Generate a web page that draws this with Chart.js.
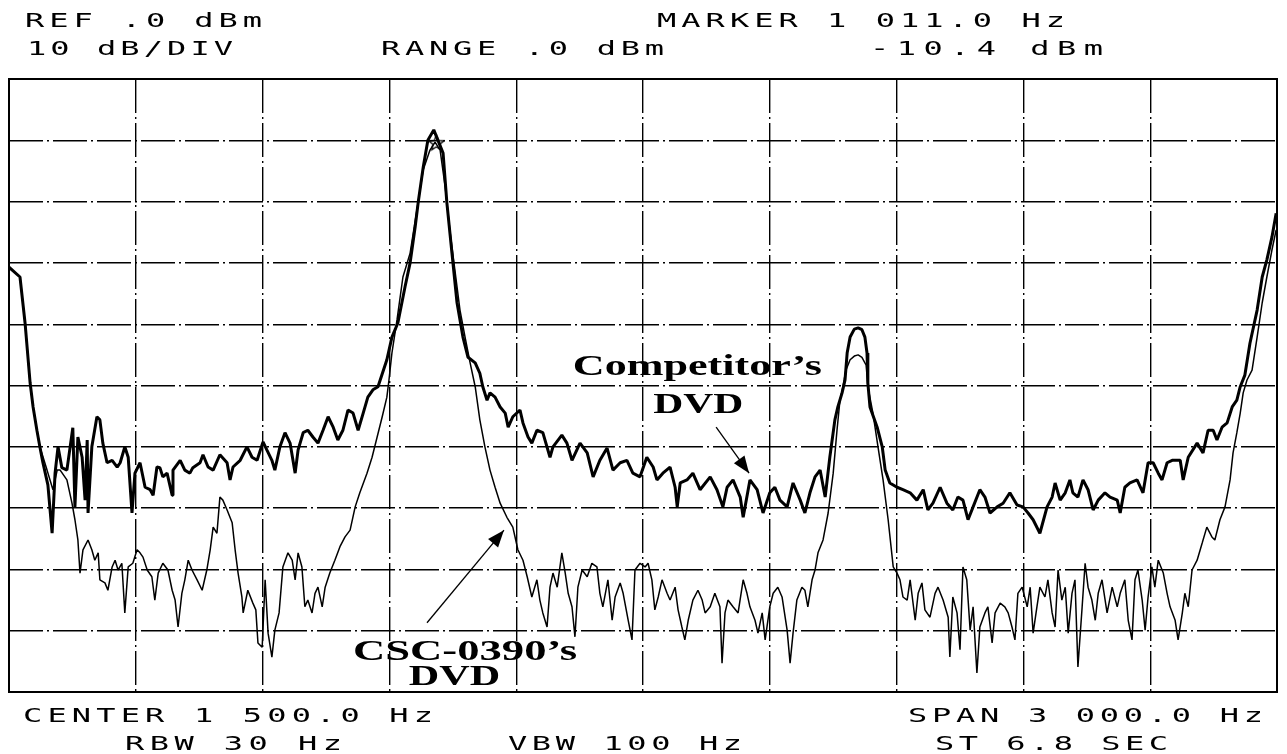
<!DOCTYPE html>
<html>
<head>
<meta charset="utf-8">
<script src="https://cdn.jsdelivr.net/npm/chart.js@4.4.1/dist/chart.umd.min.js"></script>
<style>
html, body { margin: 0; padding: 0; background: #fff; }
</style>
</head>
<body>
<canvas id="spectrum" width="1287" height="754"></canvas>
<script>
// analyser window: 0..3000 Hz, REF .0 dBm, 10 dB/DIV
var spanHz = [0, 3000];
var levelDbm = [-100, 0];
var hzPerDiv = 300;
var dbPerDiv = 10;
var markerHz = 1011.0;
var markerDbm = -10.4;

// [Hz, dBm]
var competitorTrace = [
  [0,-30.7],[26,-32.3],[38,-39.8],[50,-49.6],[57,-53.5],[66,-57.3],[73,-60.0],[80,-62.5],[92,-66.2],[102,-74.1],
  [109,-64.3],[116,-60.0],[125,-63.4],[137,-63.8],[151,-56.9],[156,-69.8],[163,-58.4],[173,-61.7],[180,-68.7],[185,-58.9],
  [187,-70.8],[196,-60.0],[208,-55.1],[215,-55.6],[222,-59.4],[232,-62.6],[244,-62.2],[256,-63.3],[263,-62.6],[274,-60.0],
  [282,-61.7],[291,-70.8],[298,-64.3],[310,-62.6],[322,-66.6],[334,-67.0],[341,-67.9],[350,-63.3],[357,-63.4],[364,-64.9],
  [374,-64.3],[386,-67.9],[388,-63.8],[405,-62.2],[416,-63.8],[428,-64.3],[435,-63.4],[452,-62.6],[459,-61.3],[471,-63.3],
  [483,-63.8],[499,-61.3],[516,-62.6],[523,-65.4],[530,-63.3],[547,-62.2],[563,-60.0],[575,-61.7],[587,-62.2],[601,-59.2],
  [610,-60.5],[622,-62.2],[629,-63.8],[641,-60.0],[653,-57.7],[665,-59.4],[677,-64.3],[684,-60.5],[696,-57.7],[707,-57.3],
  [719,-58.4],[731,-59.4],[743,-57.3],[755,-55.1],[767,-56.8],[778,-58.9],[790,-57.3],[802,-54.0],[814,-54.5],[826,-57.3],
  [838,-54.5],[849,-51.9],[861,-50.7],[873,-50.2],[894,-45.8],[906,-42.1],[920,-39.8],[937,-33.9],[949,-30.0],[961,-24.1],
  [968,-20.2],[980,-14.4],[991,-10.0],[1005,-8.3],[1027,-12.1],[1036,-20.2],[1048,-28.4],[1060,-36.5],[1074,-42.1],[1086,-45.4],
  [1103,-46.3],[1114,-48.0],[1121,-50.2],[1131,-52.4],[1138,-51.2],[1150,-51.9],[1162,-53.5],[1174,-54.5],[1181,-56.8],[1192,-55.1],
  [1209,-54.0],[1216,-56.1],[1228,-58.4],[1237,-59.4],[1249,-57.3],[1263,-57.7],[1280,-61.7],[1287,-60.0],[1308,-58.1],[1320,-59.4],
  [1332,-62.2],[1351,-59.4],[1368,-61.0],[1382,-64.9],[1398,-62.2],[1415,-60.2],[1429,-63.8],[1446,-62.6],[1462,-62.2],[1476,-64.3],
  [1493,-64.9],[1509,-61.7],[1524,-63.3],[1533,-65.4],[1547,-64.3],[1564,-63.3],[1576,-66.6],[1581,-69.8],[1588,-65.9],[1604,-65.4],
  [1618,-64.3],[1635,-67.0],[1659,-64.9],[1675,-67.0],[1689,-69.8],[1699,-66.6],[1713,-65.4],[1730,-68.2],[1737,-71.5],[1753,-65.4],
  [1770,-67.0],[1784,-70.8],[1800,-67.5],[1812,-66.6],[1824,-68.7],[1841,-69.8],[1855,-65.9],[1872,-68.7],[1883,-70.8],[1895,-67.5],
  [1907,-64.9],[1919,-63.8],[1931,-68.2],[1942,-61.7],[1954,-55.6],[1961,-53.5],[1971,-51.2],[1978,-49.1],[1983,-44.7],[1990,-42.1],
  [2000,-40.8],[2009,-40.6],[2018,-40.9],[2025,-42.1],[2030,-44.7],[2032,-49.6],[2037,-53.5],[2054,-56.8],[2066,-60.0],[2073,-63.8],
  [2084,-65.9],[2101,-66.6],[2115,-67.0],[2132,-67.5],[2148,-68.7],[2163,-67.0],[2174,-70.3],[2186,-69.2],[2203,-66.6],[2219,-69.2],
  [2233,-70.3],[2245,-68.2],[2257,-68.7],[2269,-71.9],[2281,-69.8],[2297,-67.0],[2309,-68.2],[2321,-70.8],[2338,-69.8],[2352,-69.2],
  [2368,-67.5],[2385,-69.5],[2399,-69.8],[2411,-70.8],[2423,-71.9],[2439,-74.1],[2456,-69.8],[2468,-68.2],[2475,-65.9],[2487,-68.7],
  [2499,-67.5],[2510,-65.4],[2517,-67.5],[2529,-68.2],[2541,-65.4],[2553,-67.0],[2565,-70.3],[2577,-68.7],[2593,-67.5],[2605,-68.2],
  [2622,-68.7],[2629,-70.8],[2640,-66.6],[2652,-65.9],[2669,-65.4],[2683,-67.5],[2695,-62.6],[2707,-62.6],[2719,-64.3],[2728,-65.4],
  [2740,-62.6],[2752,-62.2],[2771,-62.2],[2778,-65.4],[2790,-61.7],[2811,-59.4],[2825,-61.0],[2837,-57.3],[2849,-57.3],[2858,-58.9],
  [2870,-56.8],[2882,-56.1],[2894,-53.5],[2905,-52.4],[2913,-50.2],[2924,-48.3],[2936,-43.1],[2953,-37.7],[2965,-32.3],[2976,-29.5],
  [2988,-25.8],[2998,-21.9]
];

var cscTrace = [
  [0,-30.7],[26,-32.3],[38,-39.8],[50,-49.6],[57,-53.5],[66,-57.3],[73,-60.0],[90,-63.8],[104,-67.0],[114,-63.8],
  [121,-63.8],[137,-65.4],[149,-69.2],[156,-71.9],[163,-75.2],[168,-80.6],[175,-76.8],[187,-75.2],[196,-76.8],[203,-78.5],
  [211,-77.3],[215,-81.7],[227,-82.2],[234,-83.4],[244,-79.6],[251,-78.5],[258,-80.1],[267,-79.0],[274,-87.1],[282,-79.6],
  [293,-79.0],[303,-76.8],[310,-77.3],[317,-78.0],[327,-80.1],[338,-81.2],[345,-85.0],[353,-80.6],[364,-79.0],[376,-80.1],
  [386,-83.4],[393,-85.0],[400,-89.4],[409,-83.9],[416,-81.7],[424,-78.5],[433,-80.1],[445,-81.7],[457,-83.4],[468,-80.1],
  [476,-76.8],[483,-73.1],[492,-74.1],[499,-68.2],[506,-68.7],[516,-70.3],[528,-72.4],[535,-76.8],[542,-80.6],[551,-84.5],
  [554,-87.1],[565,-83.4],[577,-85.5],[584,-86.6],[589,-92.0],[599,-92.7],[606,-81.7],[613,-90.4],[622,-94.3],[629,-89.9],
  [639,-87.1],[648,-79.6],[660,-77.3],[670,-78.5],[677,-81.7],[684,-77.3],[693,-79.6],[700,-86.1],[707,-85.0],[717,-87.1],
  [724,-83.9],[731,-82.9],[741,-86.1],[748,-82.9],[759,-80.6],[771,-78.5],[783,-76.3],[795,-74.7],[807,-73.6],[819,-69.8],
  [830,-67.5],[847,-64.3],[859,-61.7],[871,-58.4],[883,-55.1],[894,-51.9],[899,-49.1],[906,-44.7],[918,-39.3],[932,-32.3],
  [949,-28.4],[965,-21.4],[980,-14.8],[996,-11.6],[1008,-10.3],[1020,-11.6],[1032,-17.6],[1043,-24.6],[1055,-31.2],[1067,-37.7],
  [1079,-42.1],[1091,-46.3],[1103,-50.2],[1114,-55.6],[1126,-60.0],[1138,-63.8],[1150,-66.6],[1162,-69.2],[1178,-71.5],[1192,-73.1],
  [1204,-76.8],[1216,-78.5],[1226,-81.2],[1237,-84.5],[1249,-81.7],[1256,-85.0],[1263,-87.1],[1273,-89.4],[1280,-82.9],[1287,-80.6],
  [1297,-82.9],[1308,-77.3],[1316,-80.6],[1323,-83.9],[1332,-86.1],[1339,-91.0],[1346,-82.9],[1356,-80.1],[1368,-81.2],[1379,-79.0],
  [1391,-79.6],[1398,-83.9],[1405,-86.1],[1417,-81.7],[1427,-88.3],[1434,-84.5],[1446,-82.2],[1453,-83.9],[1465,-88.3],[1474,-91.5],
  [1481,-80.1],[1493,-79.0],[1505,-79.6],[1512,-79.0],[1521,-81.7],[1528,-86.6],[1536,-84.5],[1545,-81.7],[1557,-83.9],[1564,-85.0],
  [1576,-82.9],[1583,-86.6],[1592,-89.4],[1599,-91.5],[1607,-88.3],[1618,-85.0],[1630,-83.4],[1640,-85.0],[1647,-87.1],[1659,-86.1],
  [1670,-83.9],[1682,-86.1],[1687,-95.3],[1694,-87.1],[1701,-85.0],[1713,-86.1],[1725,-87.1],[1737,-81.7],[1746,-83.9],[1753,-86.1],
  [1765,-88.3],[1772,-90.4],[1782,-87.1],[1789,-91.5],[1800,-86.1],[1808,-83.9],[1819,-82.9],[1829,-84.5],[1841,-89.9],[1848,-95.3],
  [1855,-90.4],[1864,-85.0],[1876,-82.9],[1883,-83.4],[1890,-86.1],[1900,-81.7],[1907,-80.1],[1914,-77.3],[1926,-75.2],[1938,-70.8],
  [1950,-64.3],[1959,-57.3],[1966,-52.4],[1973,-50.2],[1980,-47.5],[1990,-45.8],[2000,-45.2],[2009,-45.0],[2018,-45.4],[2028,-46.7],
  [2032,-50.2],[2044,-54.5],[2056,-60.0],[2068,-65.4],[2080,-71.9],[2092,-79.6],[2101,-80.6],[2108,-81.7],[2115,-84.5],[2125,-85.0],
  [2132,-81.7],[2144,-88.3],[2151,-83.9],[2160,-82.2],[2167,-86.6],[2179,-87.8],[2191,-83.9],[2198,-82.9],[2210,-85.0],[2222,-87.8],
  [2226,-94.3],[2233,-84.5],[2243,-87.1],[2250,-93.1],[2257,-79.6],[2266,-81.7],[2274,-89.9],[2281,-86.1],[2290,-96.9],[2297,-89.4],
  [2309,-87.1],[2316,-86.1],[2326,-92.0],[2333,-87.1],[2345,-85.5],[2356,-86.1],[2364,-87.1],[2373,-89.4],[2380,-91.5],[2387,-83.9],
  [2397,-82.9],[2409,-86.1],[2416,-82.9],[2423,-90.4],[2432,-86.1],[2439,-82.9],[2451,-84.5],[2458,-81.7],[2468,-87.1],[2475,-89.4],
  [2482,-80.1],[2491,-85.0],[2499,-82.9],[2506,-90.4],[2515,-83.9],[2522,-81.7],[2529,-95.9],[2539,-86.1],[2546,-79.0],[2553,-82.9],
  [2562,-85.0],[2570,-88.3],[2577,-83.9],[2586,-81.7],[2598,-87.1],[2610,-82.9],[2622,-86.1],[2629,-83.9],[2640,-81.7],[2648,-88.3],
  [2657,-91.5],[2664,-81.7],[2671,-80.1],[2681,-85.0],[2688,-89.9],[2695,-84.5],[2704,-79.6],[2711,-82.9],[2719,-78.5],[2731,-80.6],
  [2740,-83.9],[2747,-86.1],[2759,-88.3],[2766,-91.5],[2776,-87.1],[2782,-83.9],[2790,-86.1],[2799,-80.1],[2811,-78.5],[2823,-75.7],
  [2834,-73.1],[2846,-74.7],[2853,-75.2],[2865,-71.9],[2877,-69.8],[2889,-65.4],[2896,-61.0],[2905,-57.7],[2913,-54.5],[2920,-51.2],
  [2929,-49.1],[2941,-47.5],[2953,-42.1],[2965,-36.5],[2976,-32.3],[2988,-27.9],[2998,-24.6]
];

// analyser readout lines: text, left px, right px, baseline px
var readout = [
  ['REF .0 dBm', 25, 262, 27],
  ['MARKER 1 011.0 Hz', 657, 1065, 27],
  ['10 dB/DIV', 27, 233, 55],
  ['RANGE .0 dBm', 381, 664, 55],
  ['-10.4 dBm', 870, 1103, 55],
  ['CENTER 1 500.0 Hz', 23, 433, 722],
  ['SPAN 3 000.0 Hz', 908, 1263, 722],
  ['RBW 30 Hz', 125, 342, 750],
  ['VBW 100 Hz', 508, 742, 750],
  ['ST 6.8 SEC', 935, 1168, 750]
];

// callouts in data units: text, left Hz, right Hz, baseline dBm
var callouts = [
  ["Competitor\u2019s", 1334, 1923, -48.3],
  ['DVD', 1524, 1737, -54.5],
  ["CSC-0390\u2019s", 814, 1344, -94.8],
  ['DVD', 946, 1162, -98.9]
];
// arrows: from [Hz, dBm] to [Hz, dBm]
var arrows = [
  [[1673, -56.8], [1751, -64.3]],
  [[989, -88.7], [1171, -73.6]]
];

function toXY(trace) {
  return trace.map(function (p) { return { x: p[0], y: p[1] }; });
}

// little outlined star for the marker
function makeStar() {
  var c = document.createElement('canvas');
  c.width = 18; c.height = 18;
  var g = c.getContext('2d');
  g.strokeStyle = '#000';
  g.lineWidth = 1.3;
  g.beginPath();
  for (var i = 0; i < 10; i++) {
    var r = i % 2 ? 3.5 : 8;
    var a = -Math.PI / 2 + i * Math.PI / 5;
    var px = 9 + r * Math.cos(a), py = 9.5 + r * Math.sin(a);
    if (i) g.lineTo(px, py); else g.moveTo(px, py);
  }
  g.closePath();
  g.stroke();
  return c;
}

function spreadText(ctx, text, x0, x1, base, sx) {
  ctx.save();
  if ('letterSpacing' in ctx) ctx.letterSpacing = '0px';
  var w = ctx.measureText(text).width;
  var n = text.length;
  var target = (x1 - x0) / sx;
  var ls = (target - w) / (n - 1);
  ctx.translate(x0, base);
  ctx.scale(sx, 1);
  if ('letterSpacing' in ctx) {
    ctx.letterSpacing = ls + 'px';
    ctx.fillText(text, 0, 0);
  } else {
    var cw = w / n;
    for (var i = 0; i < n; i++) ctx.fillText(text[i], i * (cw + ls), 0);
  }
  ctx.restore();
}

function drawArrow(ctx, x1, y1, x2, y2) {
  ctx.beginPath();
  ctx.moveTo(x1, y1);
  ctx.lineTo(x2, y2);
  ctx.stroke();
  var a = Math.atan2(y2 - y1, x2 - x1), L = 17, W = 6.5;
  ctx.beginPath();
  ctx.moveTo(x2, y2);
  ctx.lineTo(x2 - L * Math.cos(a) + W * Math.sin(a), y2 - L * Math.sin(a) - W * Math.cos(a));
  ctx.lineTo(x2 - L * Math.cos(a) - W * Math.sin(a), y2 - L * Math.sin(a) + W * Math.cos(a));
  ctx.closePath();
  ctx.fill();
}

var decor = {
  id: 'decor',
  afterDraw: function (chart) {
    var ctx = chart.ctx, a = chart.chartArea;
    var xs = chart.scales.x, ys = chart.scales.y;
    ctx.save();
    // solid frame
    ctx.strokeStyle = '#000';
    ctx.lineWidth = 2;
    ctx.strokeRect(a.left, a.top, a.right - a.left, a.bottom - a.top);

    ctx.fillStyle = '#000';
    ctx.textBaseline = 'alphabetic';
    ctx.textAlign = 'left';
    ctx.font = '20px "DejaVu Sans Mono"';
    readout.forEach(function (r) { spreadText(ctx, r[0], r[1], r[2], r[3], 1.6); });

    ctx.font = 'bold 29px "Liberation Serif"';
    callouts.forEach(function (c) {
      var x0 = xs.getPixelForValue(c[1]), x1 = xs.getPixelForValue(c[2]);
      var w = ctx.measureText(c[0]).width;
      ctx.save();
      ctx.translate(x0, ys.getPixelForValue(c[3]));
      ctx.scale((x1 - x0) / w, 1);
      ctx.fillText(c[0], 0, 0);
      ctx.restore();
    });

    ctx.lineWidth = 1.3;
    arrows.forEach(function (ar) {
      drawArrow(ctx, xs.getPixelForValue(ar[0][0]), ys.getPixelForValue(ar[0][1]),
                xs.getPixelForValue(ar[1][0]), ys.getPixelForValue(ar[1][1]));
    });
    ctx.restore();
  }
};

var gridDash = [34, 4, 2, 4];

new Chart(document.getElementById('spectrum'), {
  type: 'line',
  data: {
    datasets: [{
      label: "Competitor's DVD",
      data: toXY(competitorTrace),
      borderColor: '#000',
      borderWidth: 3,
      borderJoinStyle: 'bevel',
      pointRadius: 0,
      tension: 0,
      fill: false
    }, {
      label: "CSC-0390's DVD",
      data: toXY(cscTrace),
      borderColor: '#000',
      borderWidth: 1.5,
      borderJoinStyle: 'bevel',
      pointRadius: 0,
      tension: 0,
      fill: false
    }, {
      label: 'MARKER 1',
      data: [{ x: markerHz, y: markerDbm }],
      showLine: false,
      pointStyle: makeStar(),
      pointRadius: 8
    }]
  },
  options: {
    responsive: false,
    animation: false,
    layout: { padding: { left: 9, right: 10, top: 79, bottom: 62 } },
    plugins: { legend: { display: false }, tooltip: { enabled: false } },
    scales: {
      x: {
        type: 'linear',
        min: spanHz[0], max: spanHz[1],
        ticks: { display: false, stepSize: hzPerDiv },
        grid: { color: '#000', lineWidth: 1.4, drawTicks: false },
        border: { display: false, dash: gridDash },
        afterFit: function (s) { s.height = 0; }
      },
      y: {
        min: levelDbm[0], max: levelDbm[1],
        ticks: { display: false, stepSize: dbPerDiv },
        grid: { color: '#000', lineWidth: 1.4, drawTicks: false },
        border: { display: false, dash: gridDash },
        afterFit: function (s) { s.width = 0; }
      }
    }
  },
  plugins: [decor]
});
</script>
</body>
</html>
